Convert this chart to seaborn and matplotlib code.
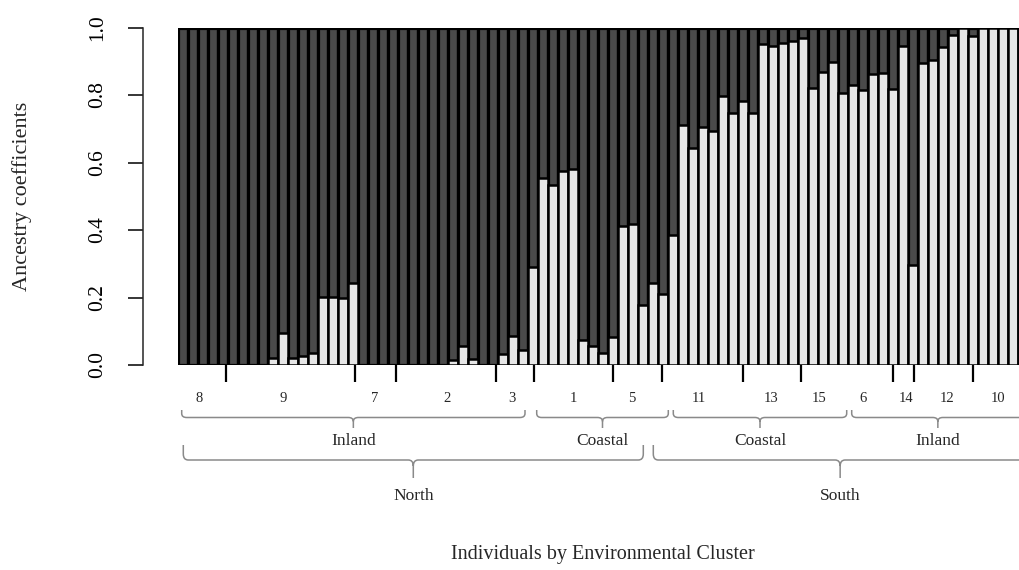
import numpy as np
import pandas as pd
import matplotlib
matplotlib.use("Agg")
import matplotlib.pyplot as plt
from matplotlib.path import Path
from matplotlib.patches import PathPatch
import matplotlib.transforms as mtransforms
import seaborn as sns

# ---------------- data ----------------
ancestry_q1 = [0, 0, 0, 0, 0, 0, 0, 0, 0,
               0.02, 0.096, 0.02, 0.028, 0.035, 0.202, 0.202, 0.198, 0.244,
               0, 0, 0, 0, 0, 0, 0, 0, 0,
               0.015, 0.056, 0.018, 0, 0, 0.033, 0.086, 0.044, 0.29,
               0.553, 0.534, 0.576, 0.58, 0.074, 0.056, 0.037, 0.082,
               0.413, 0.417, 0.177, 0.242, 0.21, 0.384, 0.711, 0.644,
               0.704, 0.694, 0.796, 0.748, 0.783, 0.748, 0.951, 0.945,
               0.955, 0.959, 0.970, 0.821, 0.869, 0.898, 0.806, 0.829,
               0.814, 0.862, 0.866, 0.817, 0.945, 0.296, 0.895, 0.903,
               0.941, 0.979, 1.0, 0.975, 1.0, 1.0, 1.0, 1.0, 1.0]

# population labels and their centres / separating ticks (in bar units)
pop_labels = ['8', '9', '7', '2', '3', '1', '5', '11', '13', '15', '6', '14', '12', '10']
pop_centers = [2.13, 10.53, 19.7, 26.93, 33.37, 39.53, 45.37, 52.13, 59.3, 64.13,
               68.47, 72.77, 76.87, 82.03]
pop_ticks = [4.8, 17.7, 21.77, 31.8, 35.63, 43.47, 48.37, 56.53, 62.27, 71.47, 73.6, 79.53]

# habitat groups (bar-unit spans)
habitat_labels = ['Inland', 'Coastal', 'Coastal', 'Inland']
habitat_start = [0.37, 35.87, 49.53, 67.37]
habitat_end = [34.7, 49.03, 66.87, 84.6]

# region groups (bar-unit spans)
region_labels = ['North', 'South']
region_start = [0.53, 47.53]
region_end = [46.53, 84.9]

y_ticks = [0.0, 0.2, 0.4, 0.6, 0.8, 1.0]
y_tick_labels = ['0.0', '0.2', '0.4', '0.6', '0.8', '1.0']

# ---------------- style ----------------
sns.set_style("ticks")
plt.rcParams['font.family'] = ['Liberation Serif', 'DejaVu Serif']

dark = '#4a4a4a'
light = '#e6e6e6'
brace_col = '#8a8a8a'

n = len(ancestry_q1)
df = pd.DataFrame({'ind': np.arange(n), 'q1': ancestry_q1, 'total': np.ones(n)})

fig = plt.figure(figsize=(10.2, 5.7), dpi=100)
# axes spans x pixels 178..1028 (cropped at 1020), y pixels 27.5..365
ax = fig.add_axes([178 / 1020, (570 - 365) / 570, 850 / 1020, 337.5 / 570])

sns.barplot(data=df, x='ind', y='total', color=dark, width=1.0, saturation=1,
            edgecolor='black', linewidth=2.3, errorbar=None, ax=ax)
sns.barplot(data=df, x='ind', y='q1', color=light, width=1.0, saturation=1,
            edgecolor='black', linewidth=1.8, errorbar=None, ax=ax)

ax.set_xlim(-0.5, n - 0.5)
ax.set_ylim(0, 1)

# spines
for s in ['top', 'right', 'bottom']:
    ax.spines[s].set_visible(False)
ax.spines['left'].set_position(('outward', 25))
ax.spines['left'].set_bounds(0, 1)
ax.spines['left'].set_linewidth(1.1)

# y axis
ax.set_yticks(y_ticks)
ax.set_yticklabels(y_tick_labels, rotation=90, va='center')
ax.tick_params(axis='y', length=11, width=1.1, pad=15, labelsize=15.5, colors='black')
ax.set_ylabel('Ancestry coefficients', fontsize=16)
ax.yaxis.label.set_va('center')
ax.yaxis.set_label_coords((22 - 178) / 850, 0.5)

# x axis: population boundary ticks
ax.set_xticks([b - 0.5 for b in pop_ticks])
ax.set_xticklabels([])
ax.tick_params(axis='x', length=12.5, width=1.6, direction='out', colors='black')
ax.set_xlabel('Individuals by Environmental Cluster', fontsize=14.5)
ax.xaxis.label.set_va('center')
ax.xaxis.set_label_coords(0.5, (365 - 555) / 337.5)


def fy(p):
    return (365 - p) / 337.5


trans = mtransforms.blended_transform_factory(ax.transData, ax.transAxes)

for lab, c in zip(pop_labels, pop_centers):
    ax.text(c - 0.5, fy(399), lab, transform=trans, ha='center', va='center',
            fontsize=10.5, clip_on=False)


def brace(x0, x1, yt, yh, ys, rx=0.5, ry_px=5):
    ry = ry_px / 337.5
    xm = (x0 + x1) / 2
    verts = [(x0, yt), (x0, yh + ry), (x0, yh), (x0 + rx, yh),
             (xm - rx, yh), (xm, yh), (xm, yh - ry), (xm, ys),
             (xm, yh - ry), (xm, yh), (xm + rx, yh),
             (x1 - rx, yh), (x1, yh), (x1, yh + ry), (x1, yt)]
    codes = [Path.MOVETO, Path.LINETO, Path.CURVE3, Path.CURVE3,
             Path.LINETO, Path.CURVE3, Path.CURVE3, Path.LINETO,
             Path.MOVETO, Path.CURVE3, Path.CURVE3,
             Path.LINETO, Path.CURVE3, Path.CURVE3, Path.LINETO]
    patch = PathPatch(Path(verts, codes), fill=False, edgecolor=brace_col, lw=1.1,
                      transform=trans, clip_on=False)
    ax.add_patch(patch)


for lab, s, e in zip(habitat_labels, habitat_start, habitat_end):
    x0, x1 = s - 0.5, e - 0.5
    brace(x0, x1, fy(410), fy(417.5), fy(428), ry_px=4)
    ax.text((x0 + x1) / 2, fy(441), lab, transform=trans, ha='center', va='center',
            fontsize=12.5, clip_on=False)

for lab, s, e in zip(region_labels, region_start, region_end):
    x0, x1 = s - 0.5, e - 0.5
    brace(x0, x1, fy(445), fy(460), fy(478), ry_px=6)
    ax.text((x0 + x1) / 2, fy(496), lab, transform=trans, ha='center', va='center',
            fontsize=12.5, clip_on=False)

fig.savefig('out.png', dpi=100)
